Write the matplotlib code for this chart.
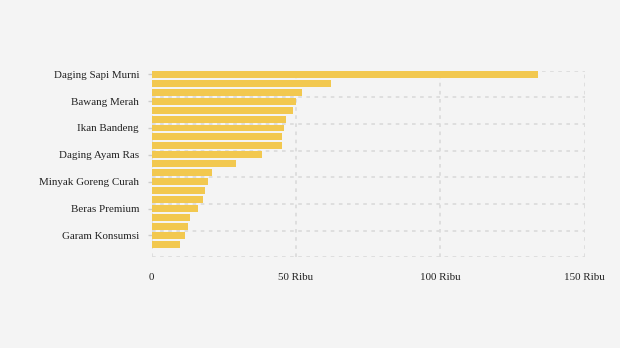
import matplotlib.pyplot as plt
import numpy as np

# komoditas (hanya tiap ketiga diberi label pada grafik)
labels = ["Daging Sapi Murni", "", "", "Bawang Merah", "", "", "Ikan Bandeng", "", "",
          "Daging Ayam Ras", "", "", "Minyak Goreng Curah", "", "", "Beras Premium", "", "",
          "Garam Konsumsi", ""]
values = [133.8, 62.2, 52.1, 49.9, 49.0, 46.5, 45.9, 45.1, 45.1, 38.2,
          29.3, 20.9, 19.6, 18.5, 17.8, 16.1, 13.3, 12.6, 11.6, 9.9]
xticks = [0, 50, 100, 150]
xticklabels = ["0", "50 Ribu", "100 Ribu", "150 Ribu"]

bg = "#f4f4f4"
grid_c = "#dcdcdc"
plt.rcParams['font.family'] = ['Liberation Serif', 'DejaVu Serif']

fig = plt.figure(figsize=(6.2, 3.48), dpi=100, facecolor=bg)
ax = fig.add_axes([0.2444, 0.2606, 0.6984, 0.5362], facecolor=bg)

y = np.arange(len(values))
ax.barh(y, values, height=0.78, color="#f2c84f", zorder=3)

ax.set_xlim(0, 150)
ylo, yhi = -0.40, 20.45
ax.set_ylim(yhi, ylo)

# garis grid putus-putus
for gy in np.linspace(ylo, yhi, 8):
    ax.axhline(gy, color=grid_c, lw=1.3, ls=(0, (2, 2.5)), zorder=1)
for gx in xticks:
    ax.axvline(gx, color=grid_c, lw=1.3, ls=(0, (2, 2.5)), zorder=1)

for s in ax.spines.values():
    s.set_visible(False)

tick_idx = [i for i, l in enumerate(labels) if l]
ax.set_yticks(tick_idx)
ax.set_yticklabels([labels[i] for i in tick_idx], fontsize=7.9, color="#222222")
ax.tick_params(axis='y', length=3, width=1, color="#cccccc", pad=6)

ax.set_xticks(xticks)
ax.set_xticklabels(xticklabels, fontsize=7.9, color="#222222")
ax.tick_params(axis='x', length=0, pad=11.5)

fig.savefig("out.png", dpi=100, facecolor=bg)
